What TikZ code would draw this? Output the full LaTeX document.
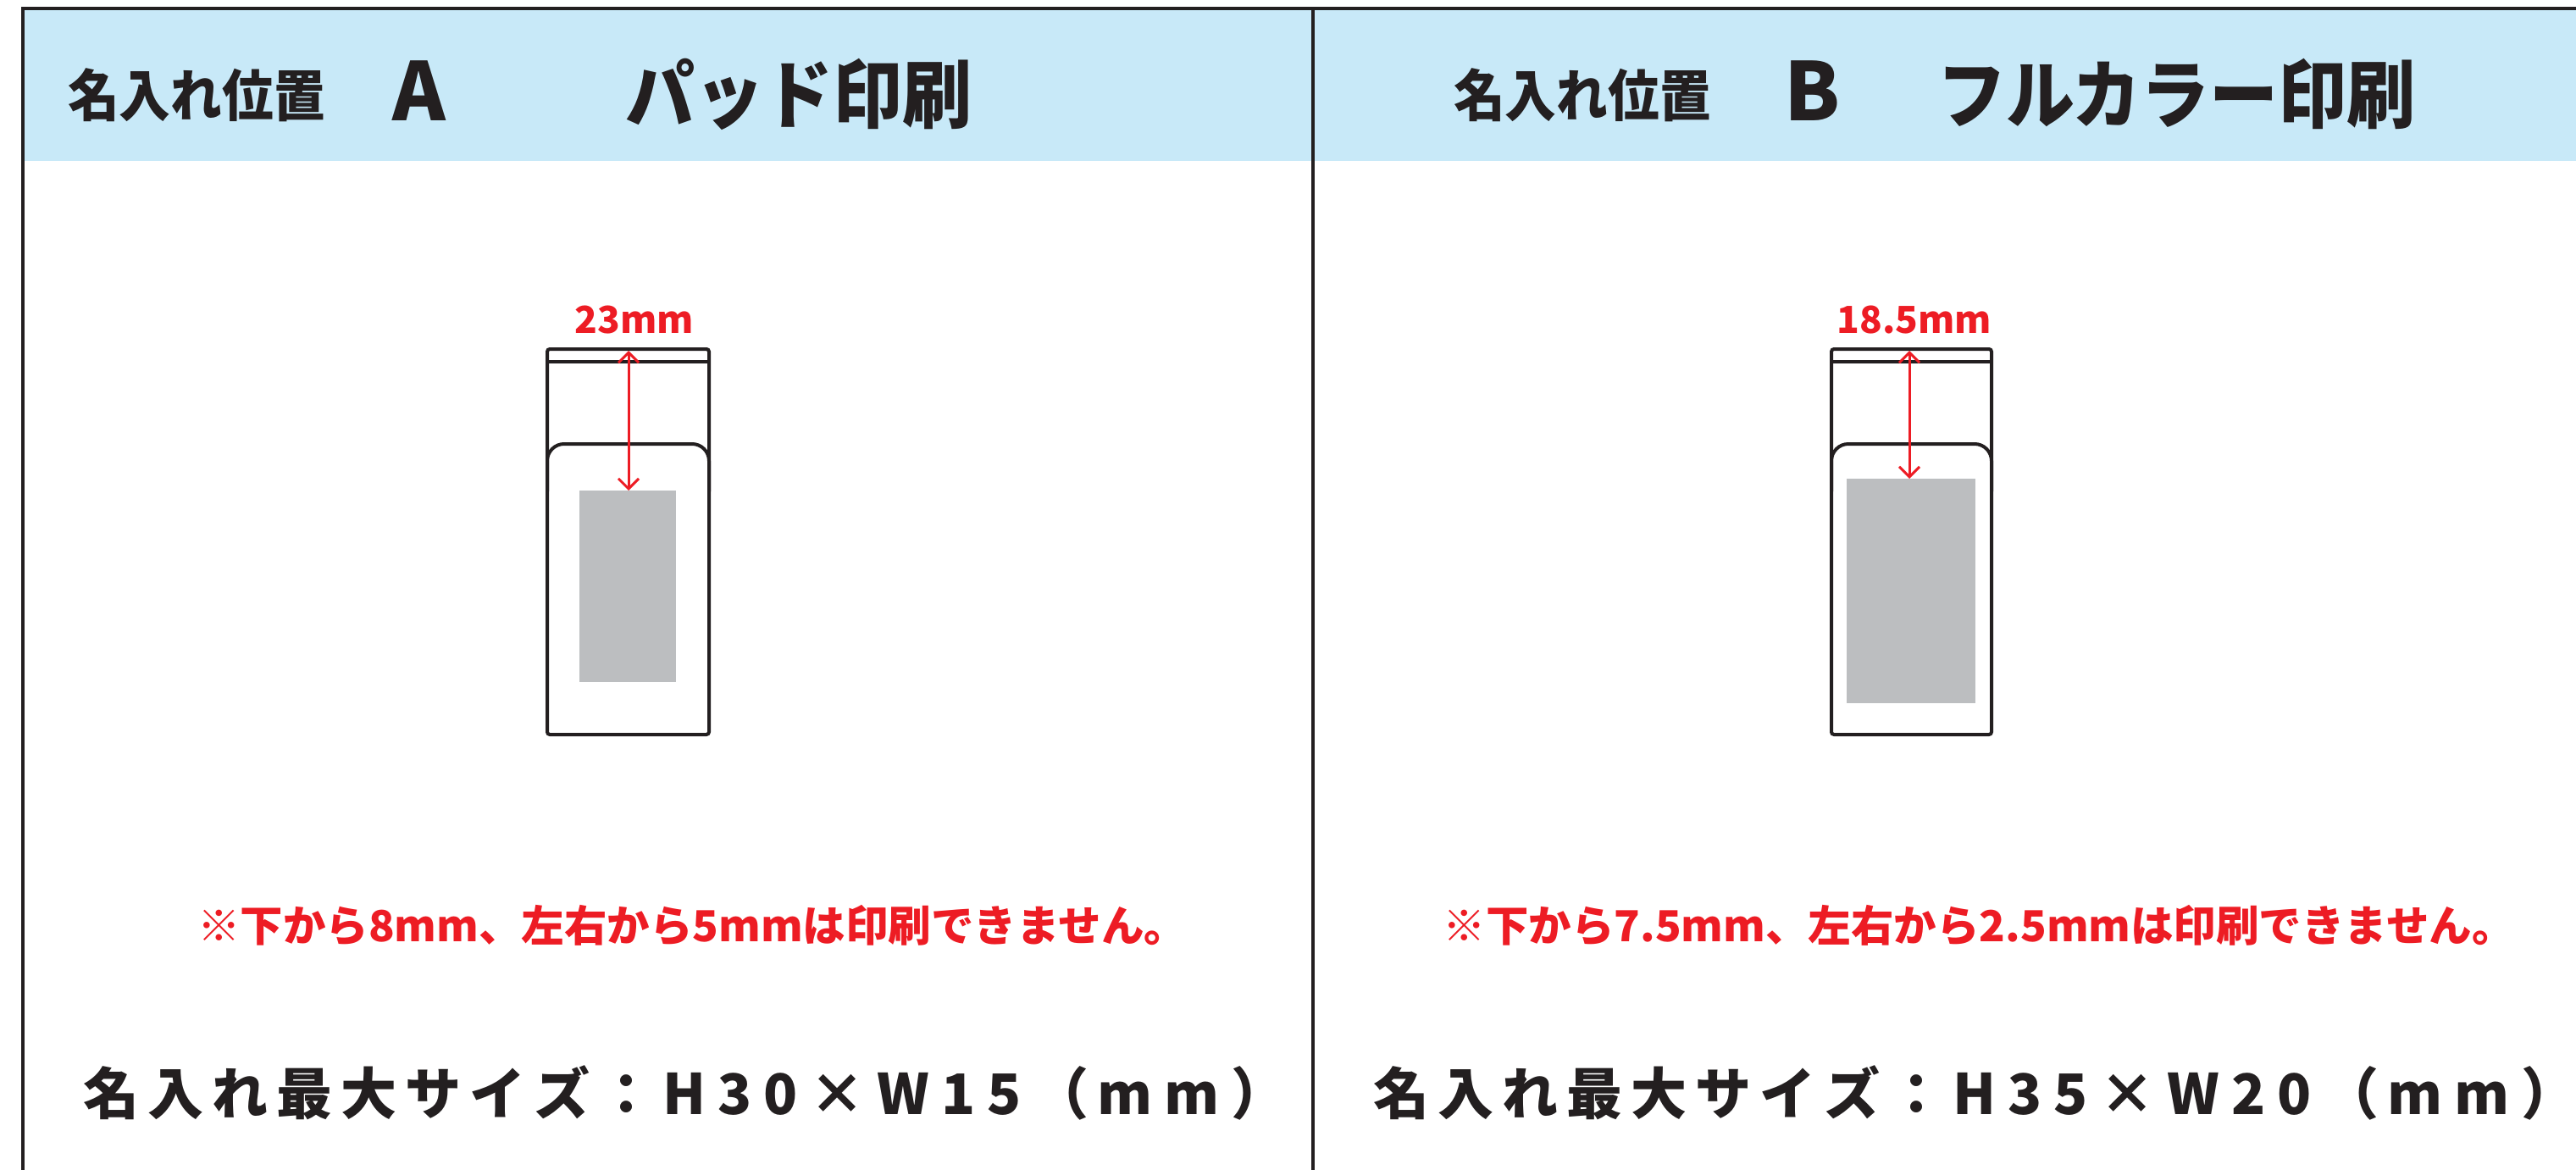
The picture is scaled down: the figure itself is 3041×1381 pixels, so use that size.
\documentclass[tikz,border=0pt]{standalone}
\usepackage{fontspec}
\newfontfamily\jp{Noto Sans CJK JP}
\usetikzlibrary{arrows.meta}
\definecolor{hdrblue}{RGB}{200,233,248}
\definecolor{mred}{RGB}{237,28,36}
\definecolor{printgrey}{RGB}{188,190,192}
\definecolor{ink}{RGB}{35,31,32}
\newlength\spgap
\setlength\spgap{10pt}
\def\spout#1{\ifx#1\relax\else#1\hspace{\spgap}\expandafter\spout\fi}
\newcommand\maxline[2]{\setlength\spgap{10pt}\spout 名入れ最大サイズ：\relax\setlength\spgap{14pt}\spout #1\relax\setlength\spgap{10pt}\spout （\relax\setlength\spgap{14pt}\spout mm\relax）}
\begin{document}
\begin{tikzpicture}[x=1pt,y=-1pt,
  hd/.style={inner sep=0pt, anchor=base west, text=ink, font=\jp\bfseries},
  devline/.style={draw=ink, line width=4pt},
  dimarrow/.style={draw=mred, line width=3pt, {Straight Barb[length=12pt,width=24pt]}-{Straight Barb[length=12pt,width=24pt]}},
  dimlabel/.style={inner sep=0pt, anchor=base, text=mred, font=\jp\bfseries\fontsize{44}{44}\selectfont},
  note/.style={inner sep=0pt, anchor=base, text=mred, font=\jp\bfseries\fontsize{50.5}{50.5}\selectfont},
  maxsize/.style={inner sep=0pt, anchor=base west, text=ink, font=\jp\bfseries\fontsize{66}{66}\selectfont},
  printarea/.style={fill=printgrey}]
\useasboundingbox (0,0) rectangle (3041,1381);
\fill[white] (0,0) rectangle (3041,1381);
% header band and frame
\fill[hdrblue] (27,10) rectangle (3041,190);
\draw[ink, line width=3.5pt] (3041,10) -- (27,10) -- (27,1381);
\draw[ink, line width=3.5pt] (1550,10) -- (1550,1381);
% header texts
\node[hd] (hA1) at (80,137) {\fontsize{66}{66}\selectfont\scalebox{0.92}[1]{名入れ位置}};
\node[hd] (hA2) at (463,142) {\fontsize{95}{95}\selectfont A};
\node[hd] (hA3) at (738,144) {\fontsize{88}{88}\selectfont\scalebox{0.93}[1]{パッド印刷}};
\node[hd] (hB1) at (1716,137) {\fontsize{66}{66}\selectfont\scalebox{0.92}[1]{名入れ位置}};
\node[hd] (hB2) at (2106,142) {\fontsize{95}{95}\selectfont B};
\node[hd] (hB3) at (2287,144) {\fontsize{88}{88}\selectfont\scalebox{0.92}[1]{フルカラー印刷}};
% device A
\draw[devline, rounded corners=3pt] (646,412) rectangle (837,867);
\draw[devline] (646,427) -- (837,427);
\draw[devline, rounded corners=20pt] (646,580) -- (646,524) -- (837,524) -- (837,580);
\fill[printarea] (684,579) rectangle (798,805);
\coordinate (a1) at (742,414);
\coordinate (a2) at (742,579);
\draw[dimarrow] (a1) -- (a2);
\node[dimlabel] (la) at (749,393) {23mm};
% device B
\draw[devline, rounded corners=3pt] (2162,412) rectangle (2351,867);
\draw[devline] (2162,427) -- (2351,427);
\draw[devline, rounded corners=20pt] (2162,580) -- (2162,524) -- (2351,524) -- (2351,580);
\fill[printarea] (2180,565) rectangle (2332,830);
\coordinate (b1) at (2254,414);
\coordinate (b2) at (2254,565);
\draw[dimarrow] (b1) -- (b2);
\node[dimlabel] (lb) at (2260,393) {18.5mm};
% notes
\node[note] (nA) at (817,1111) {※下から8mm、左右から5mmは印刷できません。};
\node[note] (nB) at (2336,1111) {※下から7.5mm、左右から2.5mmは印刷できません。};
% max sizes
\node[maxsize] (mA) at (98,1315) {\maxline{H30×W15}{}};
\node[maxsize] (mB) at (1621,1315) {\maxline{H35×W20}{}};
\end{tikzpicture}
\end{document}
